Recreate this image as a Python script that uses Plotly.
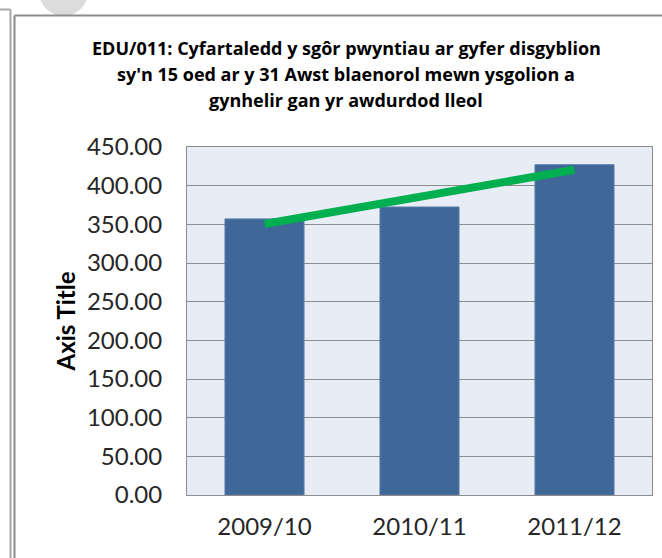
"""EDU/011 bar chart with linear trend line."""

import numpy as np
import plotly.graph_objects as go

blynyddoedd = ["2009/10", "2010/11", "2011/12"]
sgor = [357.0, 372.4, 427.1]

teitl_llinellau = [
    "EDU/011: Cyfartaledd y sgôr pwyntiau ar gyfer disgyblion",
    "sy'n 15 oed ar y 31 Awst blaenorol mewn ysgolion a",
    "gynhelir gan yr awdurdod lleol",
]

FONT = "Lato, 'Open Sans', sans-serif"
TITLE_FONT = "'Open Sans', Lato, sans-serif"
W, H = 662, 558
L, R, T, B = 187, 10, 147, 63
PW, PH = W - L - R, H - T - B


def px_x(x):
    return (x - L) / PW


def px_y(y):
    return 1 - (y - T) / PH


# linear trend (least squares) through the bar values
idx = np.arange(1, len(sgor) + 1)
slope, icept = np.polyfit(idx, sgor, 1)
trend = slope * idx + icept

fig = go.Figure()
fig.add_trace(go.Bar(
    x=blynyddoedd, y=sgor,
    marker=dict(color="#3F6797", line=dict(color="#5A7DAA", width=1)),
    showlegend=False,
))
fig.add_trace(go.Scatter(
    x=blynyddoedd, y=trend, mode="lines",
    line=dict(color="#00B050", width=8),
    showlegend=False,
))

# title, three lines
for i, txt in enumerate(teitl_llinellau):
    fig.add_annotation(
        text=f"<b>{txt}</b>", xref="paper", yref="paper",
        x=px_x(346), y=px_y(48 + 26 * i), xanchor="center", yanchor="middle",
        showarrow=False, font=dict(family=TITLE_FONT, size=18, color="#000000"),
    )

frame = dict(xref="paper", yref="paper", type="line")
shapes = [
    dict(type="circle", xref="paper", yref="paper",
         x0=px_x(39), x1=px_x(88), y0=px_y(-33), y1=px_y(16),
         fillcolor="#dcdcdc", line=dict(width=0), layer="below"),
    dict(**frame, x0=px_x(0), x1=px_x(10.5), y0=px_y(9.5), y1=px_y(9.5),
         line=dict(color="#a6a6a6", width=2)),
    dict(**frame, x0=px_x(10.5), x1=px_x(10.5), y0=px_y(9.5), y1=px_y(H),
         line=dict(color="#a6a6a6", width=2)),
    dict(**frame, x0=px_x(14.5), x1=px_x(W), y0=px_y(15.5), y1=px_y(15.5),
         line=dict(color="#8c8c8c", width=2)),
    dict(**frame, x0=px_x(14.5), x1=px_x(14.5), y0=px_y(15.5), y1=px_y(H),
         line=dict(color="#8c8c8c", width=2)),
]

fig.update_layout(
    width=W, height=H,
    margin=dict(l=L, r=R, t=T, b=B),
    paper_bgcolor="white", plot_bgcolor="#E8ECF4",
    bargap=0.49,
    font=dict(family=FONT, color="#262626"),
    shapes=shapes,
    xaxis=dict(
        type="category", showgrid=False,
        showline=True, linecolor="#8c8c8c", linewidth=1, mirror=True,
        tickfont=dict(size=24), ticks="", ticklabelstandoff=10,
    ),
    yaxis=dict(
        range=[0, 450], dtick=50, tickformat=".2f",
        showgrid=True, gridcolor="#8c8c8c", gridwidth=1,
        showline=True, linecolor="#8c8c8c", linewidth=1, mirror=True,
        zeroline=False,
        tickfont=dict(size=24), ticks="", ticklabelstandoff=19,
        title=dict(text="<b>Axis Title</b>", font=dict(size=24, color="#000000"),
                   standoff=4),
    ),
)

# page body has a default 8px margin; drop it so the chart sits at the corner
fig.write_html(
    "out.html",
    config={"displayModeBar": False},
    post_script="document.body.style.margin='0px';",
)
